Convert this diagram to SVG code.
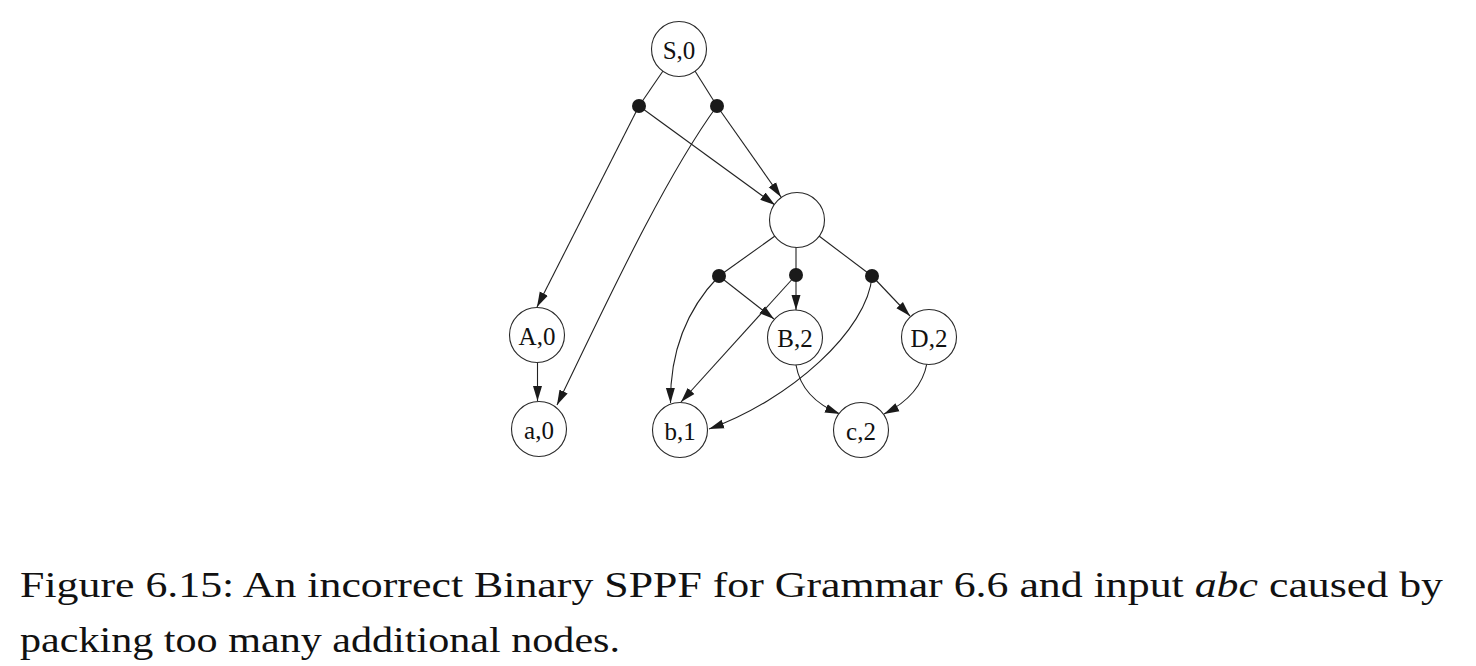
<svg xmlns="http://www.w3.org/2000/svg" width="1476" height="666" viewBox="0 0 1476 666">
<style>
.node circle{fill:#fff;stroke:#2a2a2a;stroke-width:1.1}
.node text{font-family:"Liberation Serif","Times New Roman",serif;font-size:25px;fill:#111;text-anchor:middle}
.dot circle{fill:#1a1a1a;stroke:none}
.edges path{fill:none;stroke:#222;stroke-width:1.1}
.caption{font-family:"Liberation Serif","Times New Roman",serif;font-size:35px;fill:#111}
</style>
<defs>
<marker id="arr" viewBox="0 0 15 10" refX="15" refY="5" markerWidth="15" markerHeight="10" markerUnits="userSpaceOnUse" orient="auto">
<path d="M0,0.5 L15,5 L0,9.5 z" fill="#1a1a1a"/>
</marker>
</defs>
<rect width="1476" height="666" fill="#fff"/>
<g class="edges">
<path d="M663,71 L639,106"/>
<path d="M695,71 L717,106"/>
<path d="M639,106 L537,307" marker-end="url(#arr)"/>
<path d="M717,106 C662,181 598,321 557,405" marker-end="url(#arr)"/>
<path d="M639,106 L775,205" marker-end="url(#arr)"/>
<path d="M717,106 L781,197" marker-end="url(#arr)"/>
<path d="M775,236 L719,276"/>
<path d="M796,247 L796,275"/>
<path d="M819,236 L872,276"/>
<path d="M719,276 L774,319" marker-end="url(#arr)"/>
<path d="M719,276 C688,308 670,350 670.5,403" marker-end="url(#arr)"/>
<path d="M796,275 L796,310" marker-end="url(#arr)"/>
<path d="M796,275 L681,402" marker-end="url(#arr)"/>
<path d="M872,276 L910,316" marker-end="url(#arr)"/>
<path d="M872,276 C868,330 790,400 709,429" marker-end="url(#arr)"/>
<path d="M796,365 C800,388 815,404 840,414" marker-end="url(#arr)"/>
<path d="M927,363 C923,385 908,402 884,414" marker-end="url(#arr)"/>
<path d="M537.5,363 L537.5,401" marker-end="url(#arr)"/>
</g>
<g id="S0" class="node"><circle cx="679" cy="49" r="27.5"/><text x="679" y="58.5">S,0</text></g>
<g id="p1" class="dot"><circle cx="639" cy="106" r="7"/></g>
<g id="p2" class="dot"><circle cx="717" cy="106" r="7"/></g>
<g id="X" class="node"><circle cx="797" cy="220" r="27.5"/></g>
<g id="p3" class="dot"><circle cx="719" cy="276" r="7"/></g>
<g id="p4" class="dot"><circle cx="796" cy="275" r="7"/></g>
<g id="p5" class="dot"><circle cx="872" cy="276" r="7"/></g>
<g id="A0" class="node"><circle cx="537" cy="335" r="27.5"/><text x="537" y="345">A,0</text></g>
<g id="a0" class="node"><circle cx="539" cy="429" r="27.5"/><text x="539" y="439">a,0</text></g>
<g id="B2" class="node"><circle cx="795" cy="337.5" r="27.5"/><text x="795" y="347">B,2</text></g>
<g id="D2" class="node"><circle cx="929" cy="337" r="27.5"/><text x="929" y="346.5">D,2</text></g>
<g id="b1" class="node"><circle cx="680" cy="430" r="27.5"/><text x="680" y="439.5">b,1</text></g>
<g id="c2" class="node"><circle cx="861" cy="430" r="27.5"/><text x="861" y="439.5">c,2</text></g>
<text class="caption" x="20" y="597" textLength="1423" lengthAdjust="spacingAndGlyphs">Figure 6.15:  An incorrect Binary SPPF for Grammar 6.6 and input <tspan font-style="italic">abc</tspan> caused by</text>
<text class="caption" x="20" y="652" textLength="600" lengthAdjust="spacingAndGlyphs">packing too many additional nodes.</text>
</svg>
